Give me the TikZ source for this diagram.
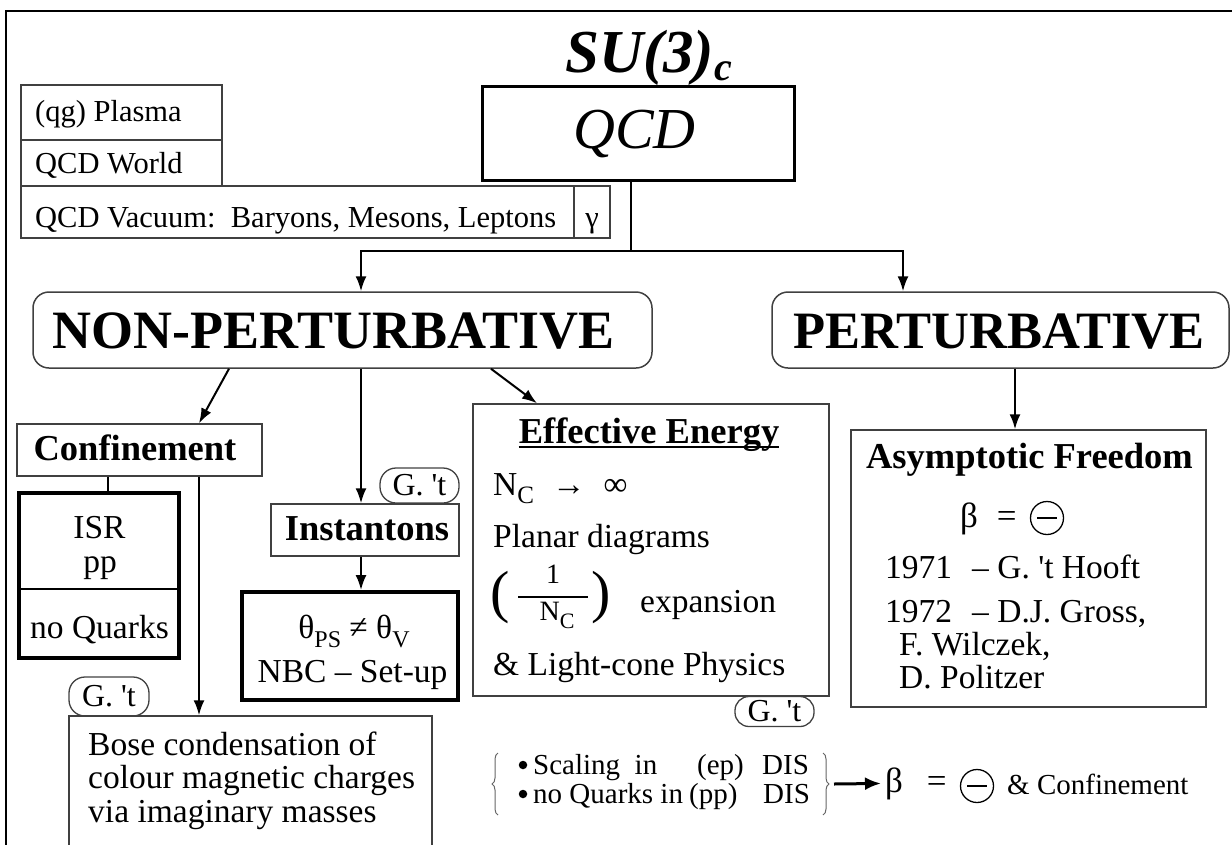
\documentclass[tikz,border=0pt]{standalone}
\usepackage{fontspec}
\setmainfont{Liberation Serif}
\usetikzlibrary{arrows.meta,decorations.pathreplacing}
\newcommand\fsz[1]{\fontsize{#1}{#1}\selectfont}
\newcommand\apos{\textquotesingle}
\begin{document}
\begin{tikzpicture}[x=1pt,y=-1pt,
  thinbox/.style={draw=black!75,line width=1.5pt,inner sep=0pt},
  thickbox/.style={draw=black,line width=4pt,inner sep=0pt},
  roundbox/.style={draw=black!75,line width=1.5pt,rounded corners=16pt,inner sep=0pt},
  gtbox/.style={draw=black!75,line width=1.3pt,rounded corners=14pt,inner sep=0pt,font=\fsz{32}},
  txt/.style={inner sep=0pt,anchor=base west,font=\fsz{33.5}},
  ctxt/.style={inner sep=0pt,anchor=base,font=\fsz{33.5}},
  arr/.style={line width=2pt,-{Latex[length=15pt,width=11pt]}},
  conn/.style={line width=2pt},
  minusc/.style={circle,draw,line width=1.3pt,minimum size=33pt,inner sep=0pt},
  bulletdot/.style={circle,fill=black,minimum size=8.5pt,inner sep=0pt},
  bracestyle/.style={decorate,decoration={brace,amplitude=6pt},line width=1pt,draw=black!60}
]
\useasboundingbox (0,0) rectangle (1232,844);
% outer frame
\draw[line width=2pt] (6,860) -- (6,11) -- (1233,11) -- (1233,860);

% top-left boxes
\node[thinbox,minimum width=201pt,minimum height=55pt] (plasma) at (121.5,112.5) {};
\node[thinbox,minimum width=201pt,minimum height=46pt] (world) at (121.5,163) {};
\node[thinbox,minimum width=589pt,minimum height=52pt] (vacuum) at (315.5,212) {};
\node[thinbox,minimum width=36pt,minimum height=52pt] (gammabox) at (592,212) {};
\node[txt,font=\fsz{30.5}] (tplasma) at (35,121) {(qg) Plasma};
\node[txt,font=\fsz{30.5}] (tworld) at (35,173) {QCD World};
\node[txt,font=\fsz{30.5}] (tvacuum) at (35,227) {QCD Vacuum:\ \ Baryons, Mesons, Leptons};
\node[ctxt,font=\fsz{30.5}] (tgamma) at (592,227) {γ};

% title and QCD
\node[inner sep=0pt,anchor=base west,font=\fsz{61}\bfseries\itshape] (title) at (565,72) {SU(3)\raisebox{-8pt}{\fsz{40}c}};
\node[draw,line width=3pt,minimum width=312pt,minimum height=94pt,inner sep=0pt] (qcd) at (638,133) {};
\node[inner sep=0pt,anchor=base,font=\fsz{58}\itshape] (tqcd) at (634.5,148) {QCD};

% main split
\node[roundbox,minimum width=619pt,minimum height=76pt] (nonpert) at (342.5,330) {};
\node[ctxt,font=\fsz{54}\bfseries] (tnonpert) at (333.5,348) {NON-PERTURBATIVE};
\node[roundbox,minimum width=457pt,minimum height=76pt] (pert) at (1000.5,330) {};
\node[ctxt,font=\fsz{52.5}\bfseries] (tpert) at (999,348) {PERTURBATIVE};
\coordinate (split) at (631,251);
\draw[conn] (qcd.south -| split) -- (split);
\draw[arr] (split) -| ([xshift=18.5pt]nonpert.north);
\draw[arr] (split) -| ([xshift=-97.5pt]pert.north);

% confinement branch
\node[thinbox,minimum width=245pt,minimum height=52pt] (conf) at (139.5,450) {};
\node[ctxt,font=\fsz{36.5}\bfseries] (tconf) at (135,460) {Confinement};
\draw[arr] ([xshift=-113.5pt]nonpert.south) -- ([xshift=59.5pt]conf.north);
\node[thickbox,minimum width=160pt,minimum height=165pt] (isr) at (99,575.5) {};
\draw[line width=1.5pt] ([xshift=-31.5pt]conf.south) -- ([xshift=-31.5pt]conf.south |- isr.north);
\draw[line width=1.5pt] (isr.west |- 0,589) -- (isr.east |- 0,589);
\node[ctxt] (tisr) at (99.5,538) {ISR};
\node[ctxt] (tpp) at (100,572) {pp};
\node[ctxt] (tnoq) at (99.5,638) {no Quarks};

\node[gtbox,minimum width=80pt,minimum height=39pt,rounded corners=16pt] (gt2) at (109,696.5) {G. \apos t};
\node[thinbox,minimum width=363pt,minimum height=144pt] (bose) at (250.5,788) {};
\draw[arr] ([xshift=59.5pt]conf.south) -- ([xshift=59.5pt]conf.south |- bose.north);
\node[txt] (tbose1) at (88,755) {Bose condensation of};
\node[txt] (tbose2) at (88,788) {colour magnetic charges};
\node[txt] (tbose3) at (88,822) {via imaginary masses};

% instantons branch
\node[gtbox,minimum width=79pt,minimum height=35pt,rounded corners=16pt] (gt1) at (419.5,485.5) {G. \apos t};
\node[thinbox,minimum width=188pt,minimum height=52pt] (inst) at (365,530) {};
\node[ctxt,font=\fsz{36.5}\bfseries] (tinst) at (367,540) {Instantons};
\draw[arr] ([xshift=18.5pt]nonpert.south) -- ([xshift=18.5pt]nonpert.south |- inst.north);
\node[thickbox,minimum width=216pt,minimum height=108pt] (theta) at (350,646) {};
\draw[arr] ([xshift=-4pt]inst.south) -- ([xshift=-4pt]inst.south |- theta.north);
\node[ctxt] (ttheta1) at (354,638) {θ\raisebox{-9pt}{\fsz{24}PS} ≠ θ\raisebox{-9pt}{\fsz{24}V}};
\node[ctxt] (ttheta2) at (352.5,682) {NBC – Set-up};

% effective energy branch
\node[thinbox,minimum width=356pt,minimum height=292pt] (eff) at (651,550) {};
\draw[arr] ([xshift=148.5pt]nonpert.south) -- ([xshift=-114pt]eff.north);
\node[ctxt,font=\fsz{36.5}\bfseries] (teff) at (649,443) {Effective Energy};
\draw[line width=1.5pt] ([yshift=-4pt]teff.base west) -- ([yshift=-4pt]teff.base east);
\node[txt] (tnc) at (493,495) {N\raisebox{-8pt}{\fsz{25}C}\hspace{18pt}→\hspace{18pt}∞};
\node[txt] (tplanar) at (493,547) {Planar diagrams};
\node[inner sep=0pt,font=\fsz{58}] (lpar) at (500,598) {(};
\node[inner sep=0pt,font=\fsz{58}] (rpar) at (601,598) {)};
\node[ctxt,font=\fsz{28}] (tone) at (553,583) {1};
\node[ctxt,font=\fsz{28}] (tncden) at (557,620) {N\raisebox{-8pt}{\fsz{22}C}};
\coordinate (fracl) at (518,597);
\coordinate (fracr) at (588,597);
\draw[line width=1.3pt] (fracl) -- (fracr);
\node[txt] (texp) at (640,612) {expansion};
\node[txt] (tlight) at (493,675) {\& Light-cone Physics};
\node[gtbox,minimum width=79pt,minimum height=30pt] (gt3) at (774.5,711.5) {G. \apos t};

% asymptotic freedom branch
\node[thinbox,minimum width=355pt,minimum height=277pt] (af) at (1028.5,568.5) {};
\draw[arr] ([xshift=14.5pt]pert.south) -- ([xshift=14.5pt]pert.south |- af.north);
\node[ctxt,font=\fsz{36.5}\bfseries] (taf) at (1029.5,468) {Asymptotic Freedom};
\node[txt,font=\fsz{35}] (tbeta) at (960,527) {β\hspace{19pt}=};
\node[minusc] (minus1) at (1047,518) {};
\draw[line width=2pt] ([xshift=-10pt]minus1.center) -- ([xshift=10pt]minus1.center);
\node[txt] (t1971) at (885,578) {1971\hspace{20pt}– G. \apos t Hooft};
\node[txt] (t1972) at (885,622) {1972\hspace{20pt}– D.J. Gross,};
\node[txt] (twil) at (899,655) {F. Wilczek,};
\node[txt] (tpol) at (899,688) {D. Politzer};

% bottom statement
\coordinate (lbrb) at (498,815);
\coordinate (lbrt) at (498,753);
\coordinate (rbrt) at (823,753);
\coordinate (rbrb) at (823,815);
\draw[bracestyle] (lbrb) -- (lbrt);
\draw[bracestyle] (rbrt) -- (rbrb);
\node[bulletdot] (dot1) at (523,765) {};
\node[bulletdot] (dot2) at (523,794) {};
\node[txt,font=\fsz{29}] (line1) at (533,774) {\makebox[164pt][l]{Scaling\ \ in}\makebox[65pt][l]{(ep)}DIS};
\node[txt,font=\fsz{29}] (line2) at (533,803) {\makebox[156pt][l]{no Quarks in}\makebox[74pt][l]{(pp)}DIS};
\node[txt,font=\fsz{35}] (bbeta) at (885,792) {β\hspace{24pt}=};
\coordinate (brtip) at (834,784);
\draw[line width=3pt,-{Latex[length=16pt,width=13pt]},shorten >=4pt] (brtip) -- (bbeta.west);
\node[minusc] (minus2) at (977,786) {};
\draw[line width=2pt] ([xshift=-10pt]minus2.center) -- ([xshift=10pt]minus2.center);
\node[txt,font=\fsz{29}] (bconf) at (1007,794) {\& Confinement};
\end{tikzpicture}
\end{document}
